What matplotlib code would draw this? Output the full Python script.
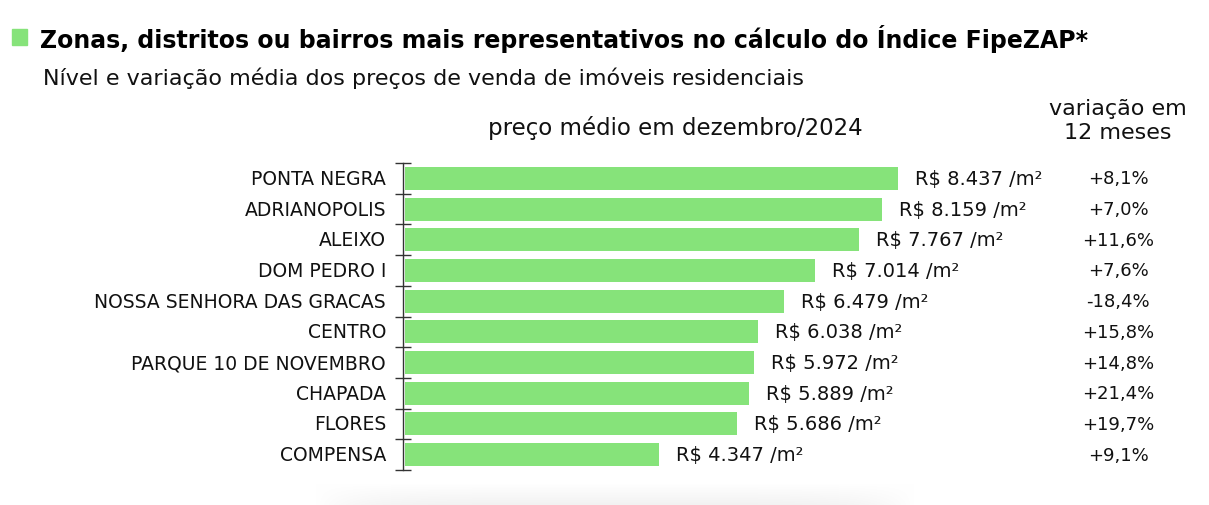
import matplotlib
matplotlib.use("Agg")
import matplotlib.pyplot as plt
import numpy as np
from matplotlib.transforms import blended_transform_factory

categories = ["PONTA NEGRA", "ADRIANOPOLIS", "ALEIXO", "DOM PEDRO I",
              "NOSSA SENHORA DAS GRACAS", "CENTRO", "PARQUE 10 DE NOVEMBRO",
              "CHAPADA", "FLORES", "COMPENSA"]
prices = [8437, 8159, 7767, 7014, 6479, 6038, 5972, 5889, 5686, 4347]
variations = ["+8,1%", "+7,0%", "+11,6%", "+7,6%", "-18,4%", "+15,8%",
              "+14,8%", "+21,4%", "+19,7%", "+9,1%"]

FONT = "DejaVu Sans"
GREEN = "#86E37A"
W, H = 1209, 506
fig = plt.figure(figsize=(W / 100, H / 100), dpi=100)

# faint decorative shadow at the bottom
sw, sh = 600, 22
xx = np.linspace(-1, 1, sw)
yy = np.linspace(0, 1, sh)[:, None]
fade_x = np.clip((1 - np.abs(xx) ** 6), 0, 1)[None, :]
fade_y = yy
shade = 1 - 0.05 * fade_x * fade_y
img = np.dstack([shade, shade, shade])
fig.figimage(img, xo=315, yo=0, origin="upper", zorder=0)

ax_left = 403 / W
ax_bottom = 1 - 471 / H
ax_height = (471 - 164) / H
ax_width = (1209 - 403) / W
ax = fig.add_axes([ax_left, ax_bottom, ax_width, ax_height])
ax.patch.set_alpha(0)
px_per_unit = (898 - 405) / 8437
ax.set_xlim(-2 / px_per_unit, (1209 - 403 - 2) / px_per_unit)
n = len(categories)
ax.set_ylim(n - 0.5, -0.5)

ypos = list(range(n))
ax.barh(ypos, prices, height=0.75, color=GREEN, zorder=2)

for s in ["top", "right", "bottom"]:
    ax.spines[s].set_visible(False)
ax.spines["left"].set_color("#333333")
ax.spines["left"].set_linewidth(1.0)
ax.spines["left"].set_position(("data", -2 / px_per_unit))
ax.set_xticks([])
ax.set_yticks([i - 0.5 for i in range(n + 1)])
ax.set_yticklabels([])
ax.tick_params(axis="y", direction="inout", length=12, width=1.0, color="#333333")

for i, c in enumerate(categories):
    ax.text(-19 / px_per_unit, i, c, ha="right", va="center", fontsize=13.5,
            family=FONT, color="#111111")

for i, p in enumerate(prices):
    label = "R$ " + f"{p:,}".replace(",", ".") + " /m²"
    ax.text(p + 17 / px_per_unit, i, label, ha="left", va="center",
            fontsize=14, family=FONT, color="#111111")

trans = blended_transform_factory(fig.transFigure, ax.transData)
for i, v in enumerate(variations):
    ax.text(1118 / W, i, v, transform=trans, ha="center", va="center",
            fontsize=13, family=FONT, color="#111111")

fig.patches.append(plt.Rectangle((12 / W, 1 - 46 / H), 15 / W, 16 / H,
                                 transform=fig.transFigure, color=GREEN))
fig.text(40 / W, 1 - 39 / H, "Zonas, distritos ou bairros mais representativos no cálculo do Índice FipeZAP*",
         ha="left", va="center", fontsize=17, fontweight="bold", family=FONT, color="#000000")
fig.text(43 / W, 1 - 78 / H, "Nível e variação média dos preços de venda de imóveis residenciais",
         ha="left", va="center", fontsize=16, family=FONT, color="#111111")
fig.text(675 / W, 1 - 128 / H, "preço médio em dezembro/2024",
         ha="center", va="center", fontsize=16.5, family=FONT, color="#111111")
fig.text(1118 / W, 1 - 121 / H, "variação em\n12 meses",
         ha="center", va="center", fontsize=16, family=FONT, color="#111111",
         linespacing=1.3)

fig.savefig("out.png", dpi=100, facecolor="white")
